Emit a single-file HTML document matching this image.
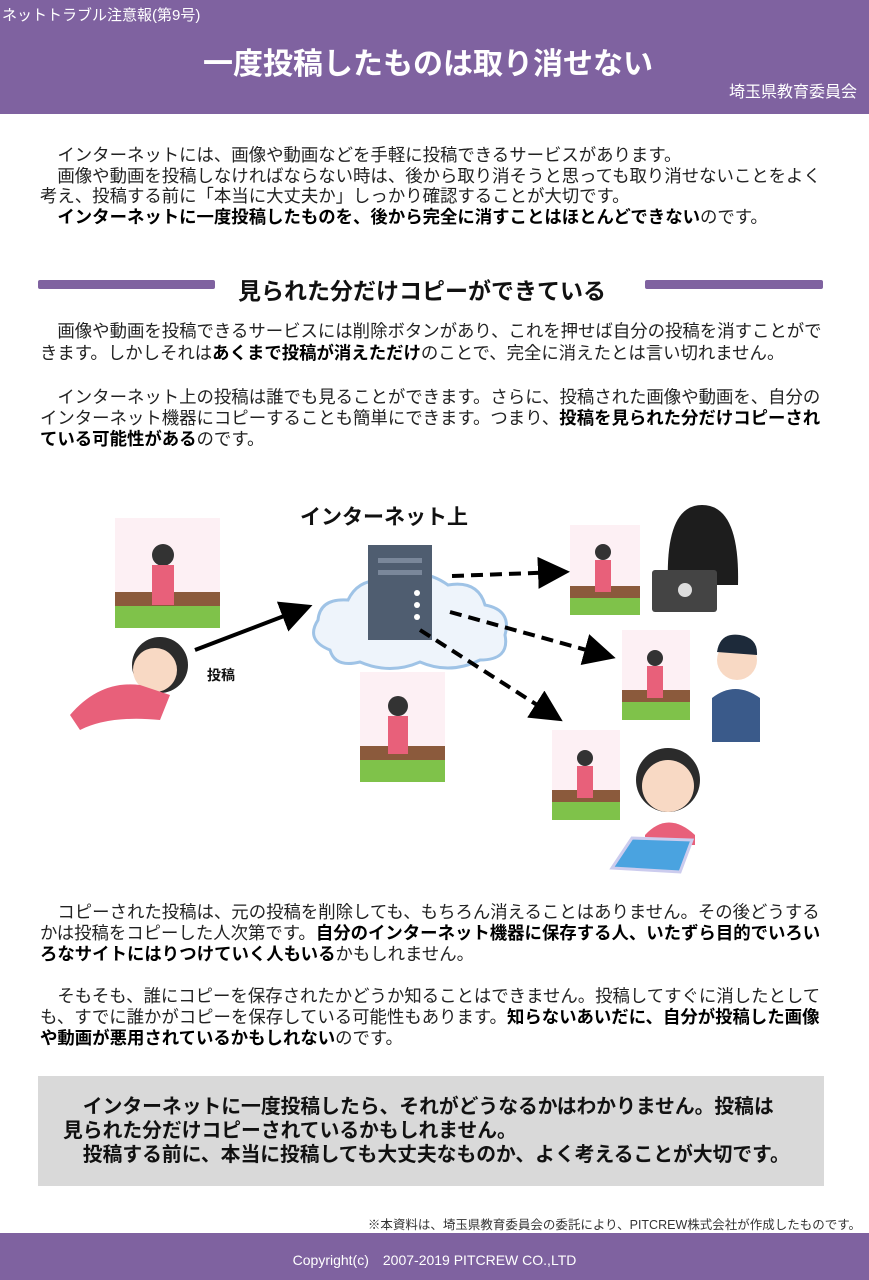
<!DOCTYPE html>
<html><head><meta charset="utf-8"><style>
*{margin:0;padding:0;box-sizing:border-box}
body{width:869px;height:1280px;position:relative;background:#fff;font-family:"Liberation Sans","Noto Sans CJK JP",sans-serif;color:#222;overflow:hidden}
.a{position:absolute;white-space:nowrap}
.p{position:absolute;left:40px;width:795px;font-size:17.4px;line-height:21px;white-space:normal}
b{color:#000}
</style></head><body>
<div class="a" style="left:0;top:0;width:869px;height:114px;background:#7f62a0"></div>
<div class="a" style="left:2px;top:4px;font-size:15px;color:#fff">ネットトラブル注意報(第9号)</div>
<div class="a" style="left:0;width:856px;top:39px;text-align:center;font-size:30px;font-weight:bold;color:#fff">一度投稿したものは取り消せない</div>
<div class="a" style="right:12px;top:78px;font-size:16px;color:#fff">埼玉県教育委員会</div>

<div class="p" style="top:145px;line-height:20.5px">　インターネットには、画像や動画などを手軽に投稿できるサービスがあります。<br>　画像や動画を投稿しなければならない時は、後から取り消そうと思っても取り消せないことをよく考え、投稿する前に「本当に大丈夫か」しっかり確認することが大切です。<br><b>　インターネットに一度投稿したものを、後から完全に消すことはほとんどできない</b>のです。</div>

<div class="a" style="left:38px;top:280px;width:177px;height:9px;background:#7f62a0;border-radius:2px"></div>
<div class="a" style="left:645px;top:280px;width:178px;height:9px;background:#7f62a0;border-radius:2px"></div>
<div class="a" style="left:0;width:844px;top:272px;text-align:center;font-size:23px;font-weight:bold;color:#111">見られた分だけコピーができている</div>

<div class="p" style="top:320px;line-height:22px">　画像や動画を投稿できるサービスには削除ボタンがあり、これを押せば自分の投稿を消すことができます。しかしそれは<b>あくまで投稿が消えただけ</b>のことで、完全に消えたとは言い切れません。</div>
<div class="p" style="top:387px">　インターネット上の投稿は誰でも見ることができます。さらに、投稿された画像や動画を、自分のインターネット機器にコピーすることも簡単にできます。つまり、<b>投稿を見られた分だけコピーされている可能性がある</b>のです。</div>

<svg class="a" style="left:0;top:480px" width="869" height="400">
<defs><marker id="ah" markerWidth="8" markerHeight="8" refX="6" refY="4" orient="auto"><path d="M0,0L8,4L0,8z" fill="#000"/></marker></defs>
<path d="M330,170 Q305,160 318,140 Q320,118 348,120 Q360,95 392,102 Q420,85 448,105 Q478,100 485,125 Q512,130 505,155 Q510,180 480,180 Q450,195 420,182 Q390,195 360,182 Q335,188 330,170z" fill="#eef4fb" stroke="#9fc3e6" stroke-width="3"/>
<rect x="368" y="65" width="64" height="95" fill="#4f5d70"/>
<rect x="378" y="78" width="44" height="5" fill="#7a879a"/><rect x="378" y="90" width="44" height="5" fill="#7a879a"/>
<circle cx="417" cy="113" r="3" fill="#fff"/><circle cx="417" cy="125" r="3" fill="#fff"/><circle cx="417" cy="137" r="3" fill="#fff"/>
<line x1="195" y1="170" x2="305" y2="128" stroke="#000" stroke-width="4" marker-end="url(#ah)"/>
<line x1="452" y1="96" x2="562" y2="92" stroke="#000" stroke-width="4" stroke-dasharray="12,7" marker-end="url(#ah)"/>
<line x1="450" y1="132" x2="608" y2="176" stroke="#000" stroke-width="4" stroke-dasharray="12,7" marker-end="url(#ah)"/>
<line x1="420" y1="150" x2="556" y2="237" stroke="#000" stroke-width="4" stroke-dasharray="12,7" marker-end="url(#ah)"/>
<g><rect x="115" y="38" width="105" height="110" fill="#fdf0f4"/><rect x="115" y="125" width="105" height="23" fill="#7fc24a"/><rect x="115" y="112" width="105" height="14" fill="#8b5a3c"/><circle cx="163" cy="75" r="11" fill="#333"/><rect x="152" y="85" width="22" height="40" fill="#e8607a"/></g>
<g><rect x="360" y="192" width="85" height="110" fill="#fdf0f4"/><rect x="360" y="280" width="85" height="22" fill="#7fc24a"/><rect x="360" y="266" width="85" height="14" fill="#8b5a3c"/><circle cx="398" cy="226" r="10" fill="#333"/><rect x="388" y="236" width="20" height="38" fill="#e8607a"/></g>
<g><rect x="570" y="45" width="70" height="90" fill="#fdf0f4"/><rect x="570" y="118" width="70" height="17" fill="#7fc24a"/><rect x="570" y="106" width="70" height="12" fill="#8b5a3c"/><circle cx="603" cy="72" r="8" fill="#333"/><rect x="595" y="80" width="16" height="32" fill="#e8607a"/></g>
<g><rect x="622" y="150" width="68" height="90" fill="#fdf0f4"/><rect x="622" y="222" width="68" height="18" fill="#7fc24a"/><rect x="622" y="210" width="68" height="12" fill="#8b5a3c"/><circle cx="655" cy="178" r="8" fill="#333"/><rect x="647" y="186" width="16" height="32" fill="#e8607a"/></g>
<g><rect x="552" y="250" width="68" height="90" fill="#fdf0f4"/><rect x="552" y="322" width="68" height="18" fill="#7fc24a"/><rect x="552" y="310" width="68" height="12" fill="#8b5a3c"/><circle cx="585" cy="278" r="8" fill="#333"/><rect x="577" y="286" width="16" height="32" fill="#e8607a"/></g>
<circle cx="160" cy="185" r="28" fill="#2b2b2b"/><circle cx="155" cy="190" r="22" fill="#f8d9c4"/>
<path d="M70,235 Q100,200 140,205 L170,215 L160,240 Q110,235 80,250z" fill="#e8607a"/>
<path d="M668,105 Q665,25 702,25 Q740,25 738,105z" fill="#1d1d1d"/><rect x="652" y="90" width="65" height="42" rx="3" fill="#444"/><circle cx="685" cy="110" r="7" fill="#ddd"/>
<circle cx="737" cy="180" r="20" fill="#f8d9c4"/><path d="M717,172 Q720,152 740,155 Q758,158 757,175z" fill="#1d2a3a"/><path d="M712,262 L712,218 Q735,200 760,218 L760,262z" fill="#3a5a8a"/>
<circle cx="668" cy="300" r="32" fill="#2b2b2b"/><circle cx="668" cy="306" r="26" fill="#f8d9c4"/><path d="M645,355 Q668,330 695,355 L695,365 L645,365z" fill="#e8607a"/>
<path d="M612,388 L632,358 L692,360 L680,392z" fill="#4aa3e0" stroke="#cce" stroke-width="3"/>
<text x="300" y="44" font-size="21" font-weight="bold" fill="#111" font-family="Liberation Sans,Noto Sans CJK JP,sans-serif">インターネット上</text>
<text x="207" y="200" font-size="14" font-weight="bold" fill="#111" font-family="Liberation Sans,Noto Sans CJK JP,sans-serif">投稿</text>
</svg>

<div class="p" style="top:902px">　コピーされた投稿は、元の投稿を削除しても、もちろん消えることはありません。その後どうするかは投稿をコピーした人次第です。<b>自分のインターネット機器に保存する人、いたずら目的でいろいろなサイトにはりつけていく人もいる</b>かもしれません。</div>
<div class="p" style="top:986px">　そもそも、誰にコピーを保存されたかどうか知ることはできません。投稿してすぐに消したとしても、すでに誰かがコピーを保存している可能性もあります。<b>知らないあいだに、自分が投稿した画像や動画が悪用されているかもしれない</b>のです。</div>

<div class="a" style="left:38px;top:1076px;width:786px;height:110px;background:#d9d9d9"></div>
<div class="a" style="left:63px;top:1095px;font-size:19.8px;line-height:24px;font-weight:bold;color:#111">　インターネットに一度投稿したら、それがどうなるかはわかりません。投稿は<br>見られた分だけコピーされているかもしれません。<br>　投稿する前に、本当に投稿しても大丈夫なものか、よく考えることが大切です。</div>

<div class="a" style="right:8px;top:1214px;font-size:12.5px;color:#333">※本資料は、埼玉県教育委員会の委託により、PITCREW株式会社が作成したものです。</div>
<div class="a" style="left:0;top:1233px;width:869px;height:47px;background:#7f62a0"></div>
<div class="a" style="left:0;width:869px;top:1250px;text-align:center;font-size:14px;color:#fff">Copyright(c)　2007-2019 PITCREW CO.,LTD</div>
</body></html>
